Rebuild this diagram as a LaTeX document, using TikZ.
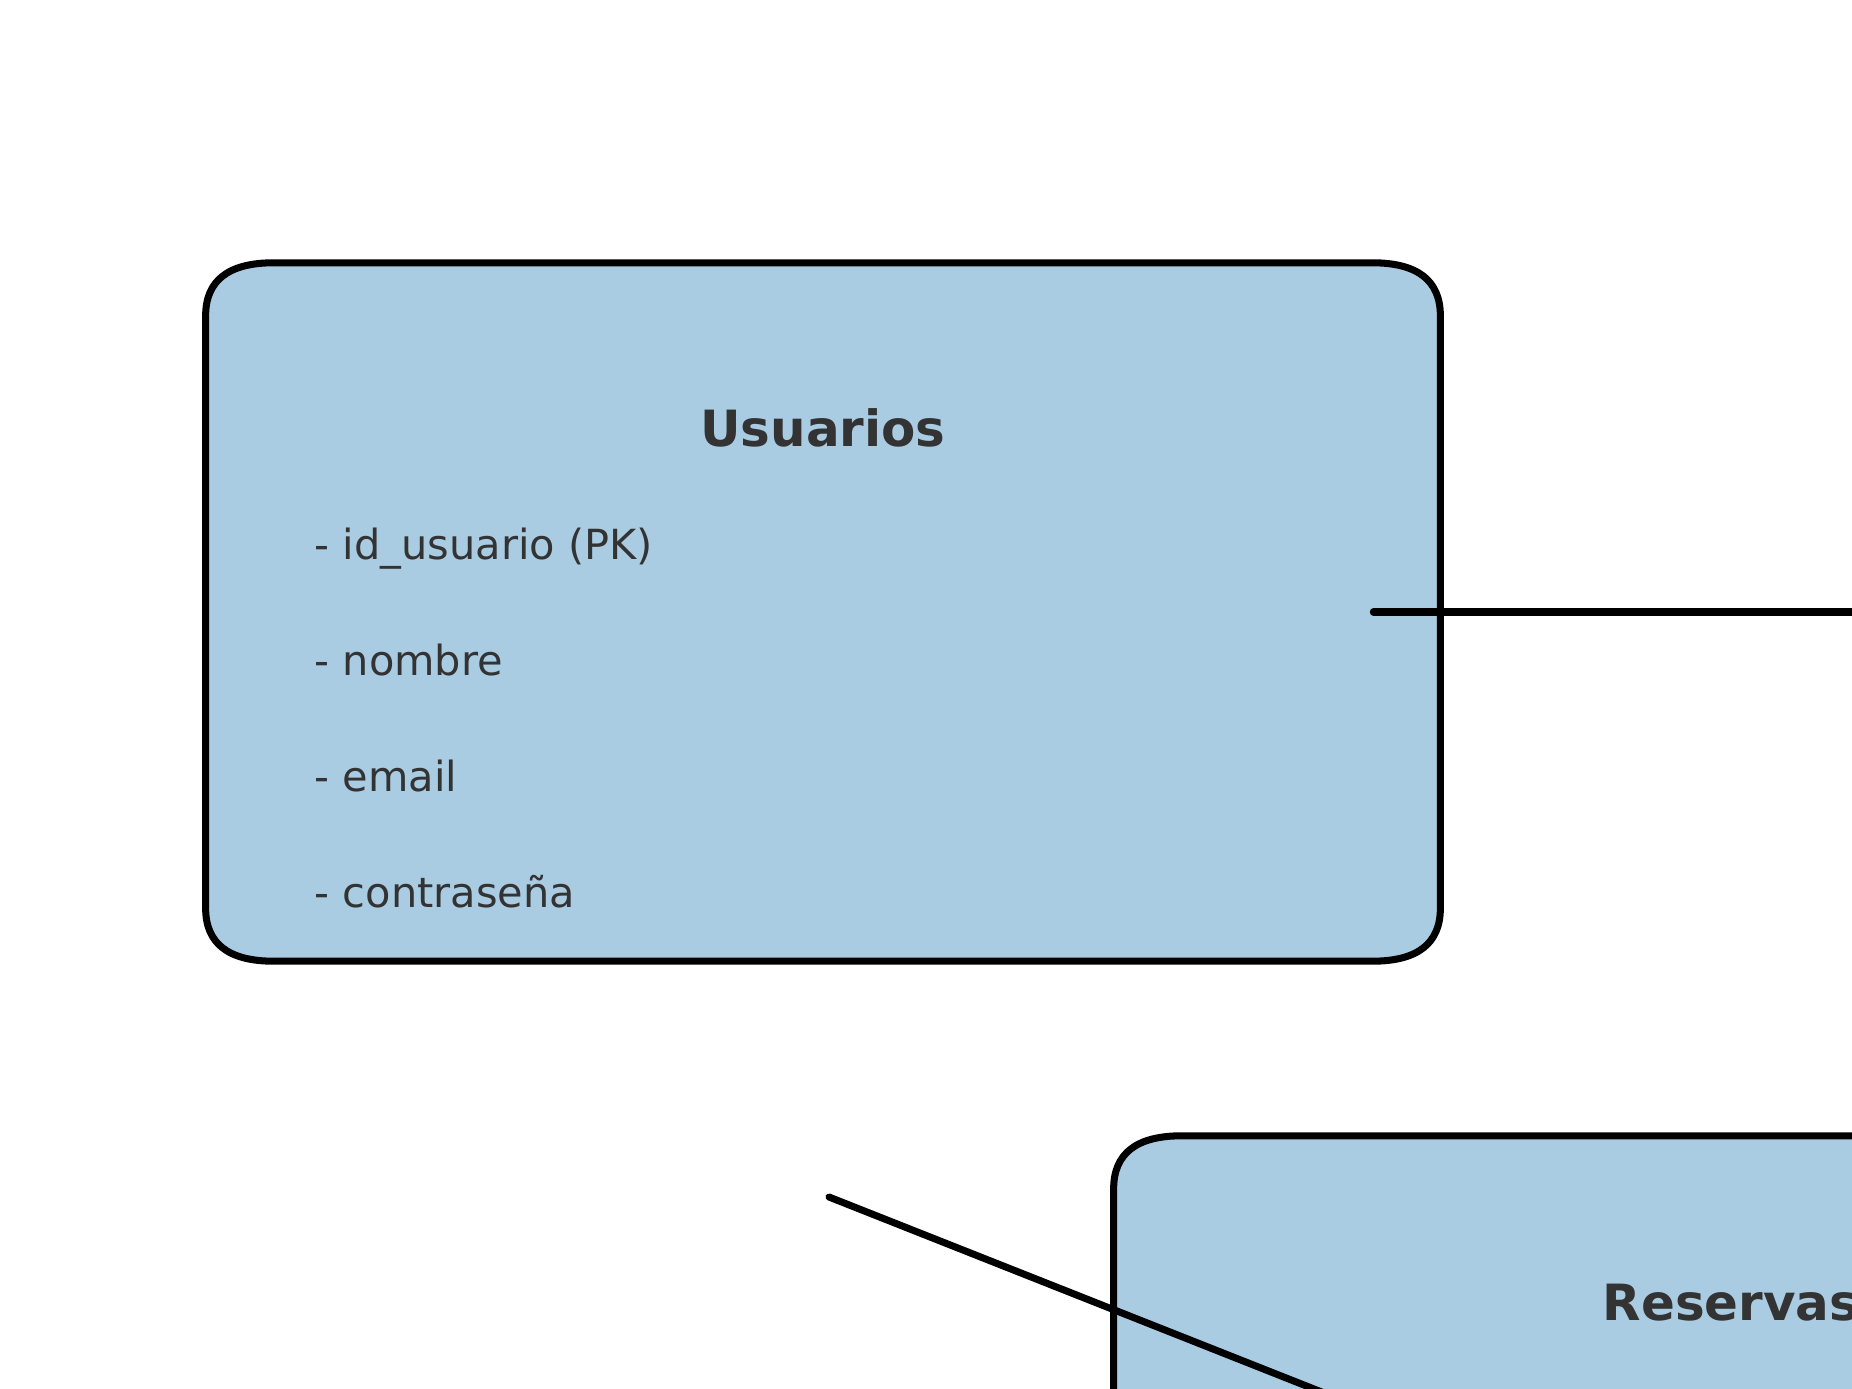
\documentclass[tikz,border=0pt]{standalone}
\usepackage{fontspec}
\setmainfont{DejaVu Sans}
\usetikzlibrary{positioning}
\definecolor{azultabla}{HTML}{A9CCE3}
\definecolor{gristexto}{HTML}{333333}
% contorno con esquinas redondeadas (rx=.68cm, ry=.53cm) alrededor de un nodo
\newcommand{\marcotabla}[1]{%
\draw[marco] ([xshift=.68cm]#1.north west) -- ([xshift=-.68cm]#1.north east)
 .. controls ([xshift=-.227cm]#1.north east) and ([yshift=-.177cm]#1.north east) .. ([yshift=-.53cm]#1.north east)
 -- ([yshift=.53cm]#1.south east)
 .. controls ([yshift=.177cm]#1.south east) and ([xshift=-.227cm]#1.south east) .. ([xshift=-.68cm]#1.south east)
 -- ([xshift=.68cm]#1.south west)
 .. controls ([xshift=.227cm]#1.south west) and ([yshift=.177cm]#1.south west) .. ([yshift=.53cm]#1.south west)
 -- ([yshift=-.53cm]#1.north west)
 .. controls ([yshift=-.177cm]#1.north west) and ([xshift=.227cm]#1.north west) .. cycle;}

\begin{document}
\begin{tikzpicture}[x=.01cm, y=-.01cm,
 tabla/.style={minimum width=12.34cm, minimum height=6.98cm, inner sep=0, outer sep=0},
 marco/.style={draw=black, fill=azultabla, line width=2pt},
 titulo/.style={anchor=base, text=gristexto, font=\fontsize{14.2}{17}\selectfont\bfseries, inner sep=0},
 campo/.style={anchor=base west, text=gristexto, font=\fontsize{11.8}{14}\selectfont, inner sep=0},
 enlace/.style={black, line width=2pt, line cap=round}]
\useasboundingbox (0,0) rectangle (1852,1389);
\clip (0,0) rectangle (1852,1389);
% tablas
\node[tabla] (usuarios) at (823,612) {};
\node[tabla] (reservas) at (1731,1485) {};
\marcotabla{usuarios}
\marcotabla{reservas}
\node[titulo] (t-usuarios) at (823,447) {Usuarios};
\node[titulo] (t-reservas) at (1731,1320) {Reservas};
\foreach \c [count=\i from 0] in {id\_usuario (PK), nombre, email, contraseña} {
 \node[campo] (us-\i) at (314,{560+115.7*\i}) {- \c};
}
% relaciones
\coordinate (fuera-der) at (1900,612);
\coordinate (rel-ini) at (829,1197);
\coordinate (rel-fin) at (1410,1427);
\draw[enlace] ([xshift=-.67cm]usuarios.east) -- (fuera-der);
\draw[enlace] (rel-ini) -- (rel-fin);
\end{tikzpicture}
\end{document}
